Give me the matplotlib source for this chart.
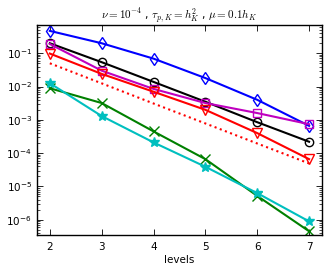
import matplotlib
matplotlib.use("Agg")
import matplotlib.pyplot as plt
from matplotlib.ticker import LogLocator, NullFormatter

plt.rcParams['mathtext.fontset'] = 'cm'

levels = [2, 3, 4, 5, 6, 7]
y_ticks = [1e-6, 1e-5, 1e-4, 1e-3, 1e-2, 1e-1]
blue_diamond = [0.47, 0.20, 0.069, 0.018, 0.0040, 6.6e-4]
black_circle = [0.20, 0.054, 0.0138, 0.0035, 8.5e-4, 2.2e-4]
magenta_square = [0.19, 0.030, 0.0085, 0.0032, 0.0016, 7.4e-4]
red_triangle = [0.098, 0.024, 0.0070, 0.0020, 4.0e-4, 6.6e-5]
red_dotted = [0.05, 0.0125, 0.0031, 7.8e-4, 1.95e-4, 4.9e-5]
green_x = [0.0089, 0.0032, 4.5e-4, 6.6e-5, 5.2e-6, 4.5e-7]
cyan_star = [0.0126, 0.0013, 2.1e-4, 3.9e-5, 6.3e-6, 8.9e-7]

fig = plt.figure(figsize=(3.32, 2.77), dpi=100)
ax = fig.add_axes([0.111, 0.152, 0.859, 0.758])

ms = 6.5
lw = 1.5
ax.semilogy(levels, blue_diamond, color='b', marker='d', mfc='none', mec='b', ms=ms, mew=1.0, lw=lw)
ax.semilogy(levels, black_circle, color='k', marker='o', mfc='none', mec='k', ms=ms - 0.5, mew=1.0, lw=lw)
ax.semilogy(levels, magenta_square, color='m', marker='s', mfc='none', mec='m', ms=ms - 0.5, mew=1.0, lw=lw)
ax.semilogy(levels, red_triangle, color='r', marker='v', mfc='none', mec='r', ms=ms, mew=1.0, lw=lw)
ax.semilogy(levels, red_dotted, color='r', ls=':', lw=lw)
ax.semilogy(levels, green_x, color='g', marker='x', mfc='none', mec='g', ms=ms, mew=1.0, lw=lw)
ax.semilogy(levels, cyan_star, color='c', marker='*', mfc='c', mec='c', ms=ms + 0.5, mew=1.0, lw=lw)

ax.set_xlim(1.75, 7.25)
ax.set_ylim(3.5e-7, 0.71)
ax.set_xticks(levels)
ax.set_yticks(y_ticks)
ax.yaxis.set_minor_locator(LogLocator(base=10, subs=range(2, 10), numticks=20))
ax.yaxis.set_minor_formatter(NullFormatter())
ax.tick_params(which='both', direction='in', top=True, right=True, labelsize=7.5)
ax.tick_params(axis='x', pad=5)
ax.tick_params(which='major', length=4, width=0.6)
ax.tick_params(which='minor', length=2, width=0.5)
for s in ax.spines.values():
    s.set_linewidth(1.0)
ax.set_xlabel('levels', fontsize=7.5, labelpad=2)
ax.set_title(r'$\nu=10^{-4}$ , $\tau_{p,K}=h_K^2$ , $\mu=0.1h_K$', fontsize=8, pad=3)
fig.savefig('out.png', dpi=100)
